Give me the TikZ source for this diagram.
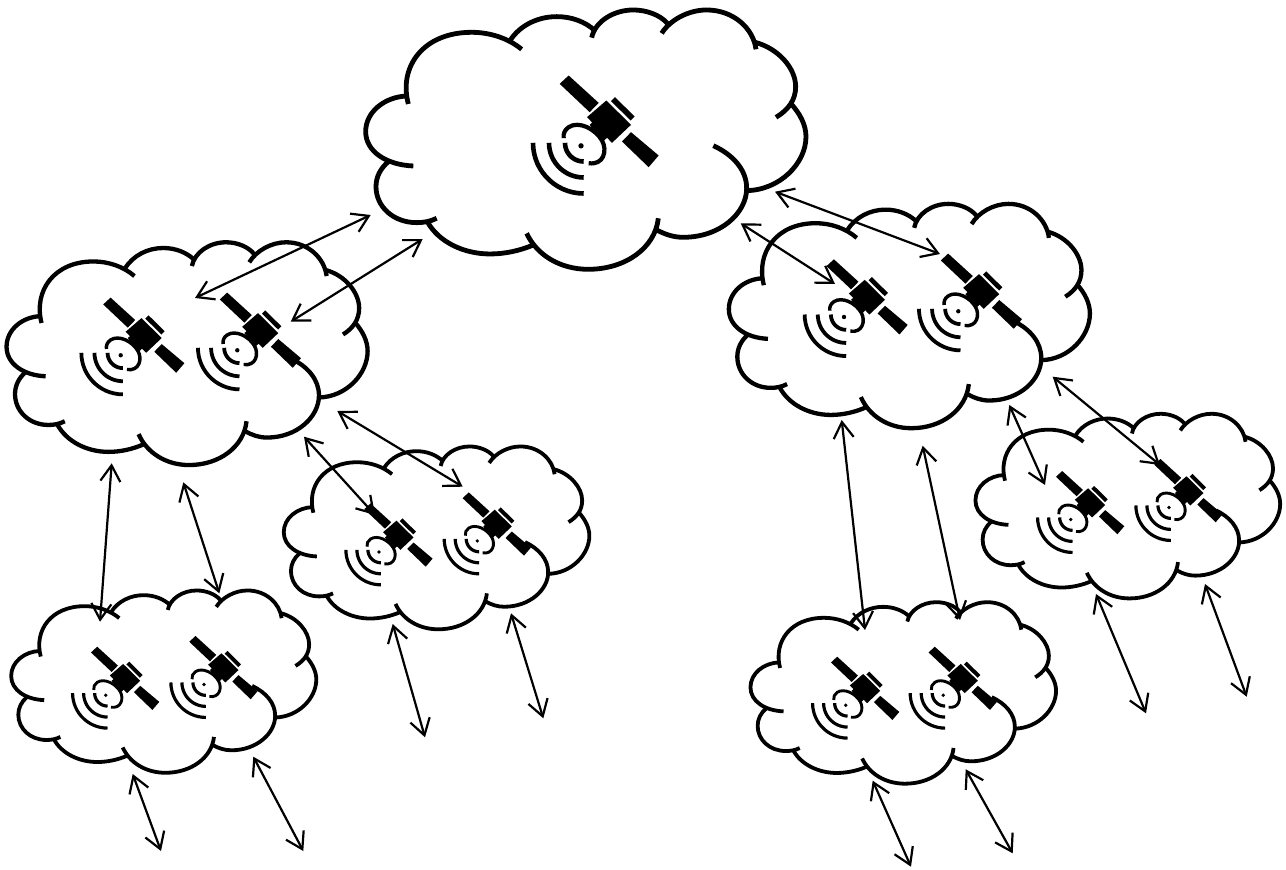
\documentclass[tikz,border=0pt]{standalone}
\usetikzlibrary{arrows.meta}
\tikzset{
  link/.style={draw=black,line width=2.2pt,{Straight Barb[length=16pt,width=20pt]}-{Straight Barb[length=16pt,width=20pt]}},
  lobe/.style={draw=black,line cap=butt,line join=round}
}
\newcommand{\cloudshape}[5]{%
  \pgfmathsetmacro{\cxs}{#3/3}\pgfmathsetmacro{\cys}{#4/3}%
  \pgfmathsetmacro{\csx}{#1-15*#3}\pgfmathsetmacro{\csy}{#2-9.33*#4}%
  \begin{scope}[shift={(\csx,\csy)},xscale=\cxs,yscale=\cys,line width=#5pt]
    \draw[lobe] (175,312) .. controls (145,200) and (220,97) .. (365,97) .. controls (420,97) and (475,115) .. (515,148);
    \draw[lobe] (480,122) .. controls (510,75) and (565,50) .. (620,50) .. controls (665,50) and (705,65) .. (735,92);
    \draw[lobe] (725,113) .. controls (735,65) and (790,30) .. (850,30) .. controls (890,30) and (930,45) .. (952,70);
    \draw[lobe] (935,100) .. controls (960,60) and (1015,30) .. (1070,30) .. controls (1150,30) and (1210,85) .. (1218,148);
    \draw[lobe] (1215,127) .. controls (1285,145) and (1337,205) .. (1337,260) .. controls (1337,300) and (1315,330) .. (1278,352);
    \draw[lobe] (1320,308) .. controls (1350,340) and (1368,375) .. (1368,410) .. controls (1368,490) and (1290,570) .. (1190,572);
    \draw[lobe] (1090,437) .. controls (1150,465) and (1190,510) .. (1190,565) .. controls (1190,640) and (1110,712) .. (1000,712) .. controls (970,712) and (945,703) .. (920,690);
    \draw[lobe] (925,655) .. controls (915,745) and (825,808) .. (715,808) .. controls (630,808) and (560,765) .. (530,700);
    \draw[lobe] (550,735) .. controls (510,752) and (465,762) .. (420,762) .. controls (340,762) and (265,725) .. (232,665);
    \draw[lobe] (260,655) .. controls (240,665) and (220,668) .. (200,668) .. controls (130,668) and (78,620) .. (78,560) .. controls (78,530) and (92,505) .. (115,485);
    \draw[lobe] (190,498) .. controls (110,495) and (47,455) .. (47,395) .. controls (47,335) and (105,290) .. (172,288);
  \end{scope}}
\newcommand{\satellite}[3]{%
  \pgfmathsetmacro{\sfac}{#3/3}%
  \begin{scope}[shift={(#1,#2)},scale=\sfac,shift={(-182,-240)}]
    \fill[black] (118,55)--(145,30)--(235,112)--(208,140)--cycle;
    \fill[black] (305,228)--(332,200)--(415,270)--(385,305)--cycle;
    \fill[black] (200,155)--(258,105)--(332,178)--(275,232)--cycle;
    \fill[black] (272,107)--(284,95)--(343,153)--(331,165)--cycle;
    \fill[black] (208,178)--(228,160)--(262,215)--(244,232)--cycle;
    \draw[black,line width=4.2*#3 pt,line cap=butt] (205,293) .. controls (250,300) and (262,255) .. (245,225) .. controls (225,190) and (175,165) .. (145,185) .. controls (133,193) and (128,205) .. (130,218);
    \foreach \rr in {56,104,152}
      \draw[black,line width=4.6*#3 pt] plot[domain=90:180,samples=16,variable=\t] ({190+\rr*cos(\t)},{232+\rr*sin(\t)});
    \fill[black] (182,241) circle (8);
  \end{scope}}
\begin{document}
\begin{tikzpicture}[x=1pt,y=-1pt]
\useasboundingbox (0,0) rectangle (1286,870);
\fill[white] (0,0) rectangle (1286,870);
% clouds
\cloudshape{365}{9.3}{1}{1}{4.8}
\cloudshape{6}{241.7}{.82}{.859}{4.3}
\cloudshape{728.3}{203.3}{.82}{.865}{4.3}
\cloudshape{283.3}{446}{.694}{.705}{3.8}
\cloudshape{10.7}{590}{.693}{.703}{3.8}
\cloudshape{975}{413.3}{.692}{.712}{3.8}
\cloudshape{750}{601.7}{.694}{.70}{3.8}
% satellites
\satellite{581}{145.5}{1}
\satellite{120.7}{355}{.82}
\satellite{237.3}{350}{.82}
\satellite{844}{316.7}{.82}
\satellite{958.3}{311}{.82}
\satellite{379}{551.7}{.69}
\satellite{477.3}{540.7}{.69}
\satellite{105.7}{695}{.69}
\satellite{204}{684.3}{.69}
\satellite{1070.7}{519.3}{.69}
\satellite{1169}{507.3}{.69}
\satellite{845.7}{705}{.69}
\satellite{943.3}{695}{.69}
% connector ends
\coordinate (a1s) at (370.7,215);   \coordinate (a1e) at (195,298);
\coordinate (a2s) at (422.7,239);   \coordinate (a2e) at (290.7,321.7);
\coordinate (a3s) at (775,191.7);   \coordinate (a3e) at (940,254);
\coordinate (a4s) at (740.7,223.3); \coordinate (a4e) at (835,284);
\coordinate (a5s) at (337.3,411);   \coordinate (a5e) at (462.7,486.7);
\coordinate (a6s) at (304,436.7);   \coordinate (a6e) at (375,515);
\coordinate (a7s) at (111.7,463.3); \coordinate (a7e) at (100,621.7);
\coordinate (a8s) at (183.3,482.3); \coordinate (a8e) at (219.3,593.3);
\coordinate (a9s) at (392.7,624);   \coordinate (a9e) at (425,737.3);
\coordinate (a10s) at (511,613.3);  \coordinate (a10e) at (543.3,718.3);
\coordinate (a11s) at (132.7,774);  \coordinate (a11e) at (161,851);
\coordinate (a12s) at (253.3,756.7);\coordinate (a12e) at (303.3,851);
\coordinate (a13s) at (1052.7,376.7);\coordinate (a13e) at (1160,465);
\coordinate (a14s) at (1009.3,405); \coordinate (a14e) at (1045,485);
\coordinate (a15s) at (841.7,420);  \coordinate (a15e) at (865,630);
\coordinate (a16s) at (922.7,445.7);\coordinate (a16e) at (960,620);
\coordinate (a17s) at (1096,594);   \coordinate (a17e) at (1146,713.3);
\coordinate (a18s) at (1205,584);   \coordinate (a18e) at (1246.7,696.7);
\coordinate (a19s) at (872.7,780.7);\coordinate (a19e) at (911,866.7);
\coordinate (a20s) at (965.7,769.3);\coordinate (a20e) at (1012.7,853.3);
\foreach \n in {1,...,20} \draw[link] (a\n s) -- (a\n e);
\end{tikzpicture}
\end{document}
